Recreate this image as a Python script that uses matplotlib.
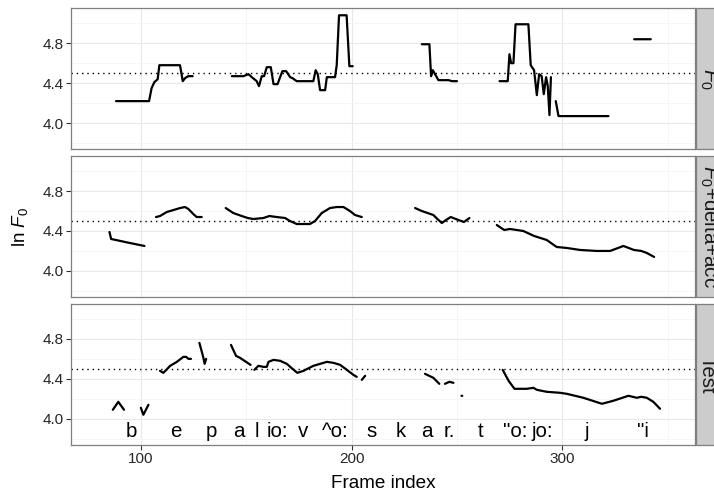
import numpy as np
import matplotlib
matplotlib.use('Agg')
import matplotlib.pyplot as plt
from matplotlib.patches import Rectangle

plt.rcParams['font.family'] = 'Liberation Sans'
plt.rcParams['mathtext.fontset'] = 'custom'
plt.rcParams['mathtext.rm'] = 'Liberation Sans'
plt.rcParams['mathtext.it'] = 'Liberation Sans:italic'

nan = np.nan

# panel 1: F0 (nan breaks the line)
f0_x = [88.1, 103.8, 105.0, 106.3, 107.4, 107.9, 108.7, 118.5, 119.8, 120.9, 122.4, 124.5, nan,
        143.1, 148.6, 151.0, 152.6, 154.9, 156.0, 157.3, 158.4, 159.7, 161.6, 162.9, 164.8, 167.1,
        168.9, 170.8, 171.9, 173.9, 181.8, 182.9, 183.9, 185.0, 187.4, 188.2, 192.1, 192.9, 194.0,
        197.6, 198.9, 200.5, nan,
        233.3, 236.9, 237.7, 238.5, 239.3, 241.2, 246.0, 247.6, 250.0, nan,
        270.2, 274.1, 274.9, 275.7, 276.8, 277.8, 283.9, 285.0, 286.6, 287.9, 289.0, 290.2, 291.2,
        292.3, 293.1, 293.9, 294.6, nan,
        296.9, 298.2, 321.9, nan,
        334.1, 342.0]
f0_y = [4.22, 4.22, 4.35, 4.41, 4.43, 4.44, 4.58, 4.58, 4.42, 4.45, 4.47, 4.47, nan,
        4.47, 4.47, 4.49, 4.46, 4.42, 4.37, 4.47, 4.47, 4.56, 4.56, 4.39, 4.39, 4.52,
        4.52, 4.46, 4.45, 4.42, 4.42, 4.53, 4.49, 4.33, 4.33, 4.46, 4.46, 4.58, 5.08,
        5.08, 4.57, 4.57, nan,
        4.79, 4.79, 4.47, 4.53, 4.50, 4.43, 4.43, 4.42, 4.42, nan,
        4.42, 4.42, 4.69, 4.60, 4.60, 4.99, 4.99, 4.58, 4.53, 4.28, 4.49, 4.47, 4.29,
        4.46, 4.37, 4.08, 4.46, nan,
        4.22, 4.07, 4.07, nan,
        4.84, 4.84]

# panel 2: F0+delta+acc
dyn_x = [85.0, 85.8, 93.5, 101.6, nan,
         107.1, 109.0, 112.2, 115.4, 118.5, 120.9, 122.5, 124.8, 126.4, 128.8, nan,
         140.2, 143.8, 147.8, 150.7, 153.3, 158.1, 160.9, 164.4, 168.4, 170.7, 173.9, 180.2,
         182.6, 185.8, 189.7, 192.9, 196.1, 199.2, 201.6, 204.8, nan,
         230.1, 233.3, 238.8, 240.7, 242.8, 244.8, 247.0, 250.7, 253.3, 255.9, nan,
         268.9, 272.4, 275.2, 281.5, 286.6, 292.6, 297.3, 302.1, 308.4, 316.4, 322.7, 326.5,
         329.0, 331.5, 334.0, 337.5, 340.1, 343.6]
dyn_y = [4.39, 4.32, 4.285, 4.25, nan,
         4.54, 4.55, 4.59, 4.61, 4.63, 4.64, 4.62, 4.57, 4.54, 4.54, nan,
         4.63, 4.58, 4.55, 4.53, 4.52, 4.53, 4.55, 4.54, 4.53, 4.50, 4.47, 4.47,
         4.50, 4.58, 4.63, 4.64, 4.64, 4.60, 4.56, 4.54, nan,
         4.63, 4.60, 4.56, 4.52, 4.48, 4.51, 4.54, 4.51, 4.49, 4.53, nan,
         4.46, 4.41, 4.42, 4.40, 4.35, 4.31, 4.24, 4.23, 4.21, 4.20, 4.20, 4.23,
         4.25, 4.23, 4.21, 4.20, 4.18, 4.14]

# panel 3: Test
test_x = [86.6, 89.2, 91.9, nan,
          99.9, 101.1, 103.5, nan,
          109.0, 110.6, 113.8, 117.0, 120.1, 121.4, 122.5, 123.7, nan,
          127.7, 129.5, 130.2, 130.9, nan,
          142.7, 145.1, 147.0, 152.0, nan,
          153.8, 155.7, 158.1, 159.7, 160.5, 162.9, 166.1, 169.2, 171.9, 174.2, 177.1, 181.8,
          185.0, 188.2, 191.4, 194.5, 197.7, 200.8, 202.4, nan,
          204.8, 206.4, nan,
          234.8, 238.8, 241.6, nan,
          244.3, 246.4, 248.3, nan,
          252.1, 252.5, nan,
          271.7, 274.5, 277.3, 283.1, 286.3, 287.9, 292.6, 298.9, 302.1, 310.0, 318.8, 324.2,
          331.4, 335.4, 337.5, 340.1, 343.2, 346.4]
test_y = [4.09, 4.17, 4.09, nan,
          4.11, 4.04, 4.14, nan,
          4.48, 4.46, 4.53, 4.57, 4.62, 4.62, 4.60, 4.60, nan,
          4.76, 4.62, 4.55, 4.60, nan,
          4.74, 4.63, 4.61, 4.54, nan,
          4.49, 4.53, 4.52, 4.52, 4.57, 4.59, 4.58, 4.55, 4.50, 4.46, 4.48, 4.53,
          4.55, 4.57, 4.56, 4.54, 4.49, 4.44, 4.42, nan,
          4.39, 4.43, nan,
          4.45, 4.41, 4.35, nan,
          4.35, 4.37, 4.36, nan,
          4.23, 4.23, nan,
          4.49, 4.38, 4.30, 4.30, 4.31, 4.29, 4.27, 4.26, 4.25, 4.21, 4.15, 4.18,
          4.23, 4.21, 4.22, 4.21, 4.17, 4.10]

# phone labels in the test panel
phones = ['b', 'e', 'p', 'a', 'l', 'io:', 'v', '^o:', 's', 'k', 'a', 'r.', 't', '"o:', 'jo:', 'j', '"i']
phone_x = [95.2, 116.3, 133.3, 146.4, 155.1, 164.6, 177.1, 192.3, 209.4, 223.4, 235.9, 246.3,
           261.4, 277.6, 290.5, 311.6, 338.1]

strip_names = ['$F_0$', '$F_0$+delta+acc', 'Test']
ref_level = 4.5

W, H = 714, 494
fig, axes = plt.subplots(3, 1, figsize=(W / 100, H / 100), dpi=100, sharex=True)
fig.subplots_adjust(left=70.7 / W, right=695 / W, top=1 - 8 / H, bottom=1 - 445 / H, hspace=0.046)

xs = [f0_x, dyn_x, test_x]
ys = [f0_y, dyn_y, test_y]

for i, ax in enumerate(axes):
    ax.plot(xs[i], ys[i], color='black', lw=1.6, solid_capstyle='round', solid_joinstyle='round', zorder=3)
    ax.axhline(ref_level, color='black', lw=1.0, linestyle=(0, (1, 2.8)), zorder=2)

    ax.set_xlim(66.6, 363)
    ax.set_ylim(3.737, 5.153)
    ax.set_yticks([4.0, 4.4, 4.8])
    ax.set_yticks([3.8, 4.2, 4.6, 5.0], minor=True)
    ax.set_xticks([100, 200, 300])
    ax.set_xticks([150, 250, 350], minor=True)
    ax.set_yticklabels(['4.0', '4.4', '4.8'])
    ax.grid(which='major', color='#e8e8e8', lw=0.8)
    ax.grid(which='minor', color='#f5f5f5', lw=0.6)
    ax.set_axisbelow(True)
    for s in ax.spines.values():
        s.set_color('#7f7f7f')
        s.set_linewidth(0.9)
    ax.tick_params(which='major', direction='out', length=3.3, width=0.8, color='#333333',
                   labelsize=11, labelcolor='#262626', pad=1.5)
    ax.tick_params(which='minor', length=0)
    if i < 2:
        ax.tick_params(axis='x', which='major', length=0)

    # strip on the right (text runs past the image edge, as in the original)
    pos = ax.get_position()
    fig.patches.append(Rectangle((695.5 / W, pos.y0), 0.05, pos.height, transform=fig.transFigure,
                                 facecolor='#cccccc', edgecolor='#7f7f7f', lw=0.9))
    fig.text(698 / W, pos.y0 + pos.height / 2, strip_names[i], rotation=-90, ha='left', va='center',
             fontsize=14.8, color='#1a1a1a')

for lab, px in zip(phones, phone_x):
    axes[2].text(px, 3.82, lab, ha='center', va='baseline', fontsize=14.8, color='black')

fig.text(20 / W, 1 - 227 / H, 'ln $F_0$', rotation=90, ha='center', va='center', fontsize=13.6)
fig.text(382.9 / W, 1 - 487.5 / H, 'Frame index', ha='center', va='baseline', fontsize=13.6)

fig.savefig('out.png', dpi=100)
